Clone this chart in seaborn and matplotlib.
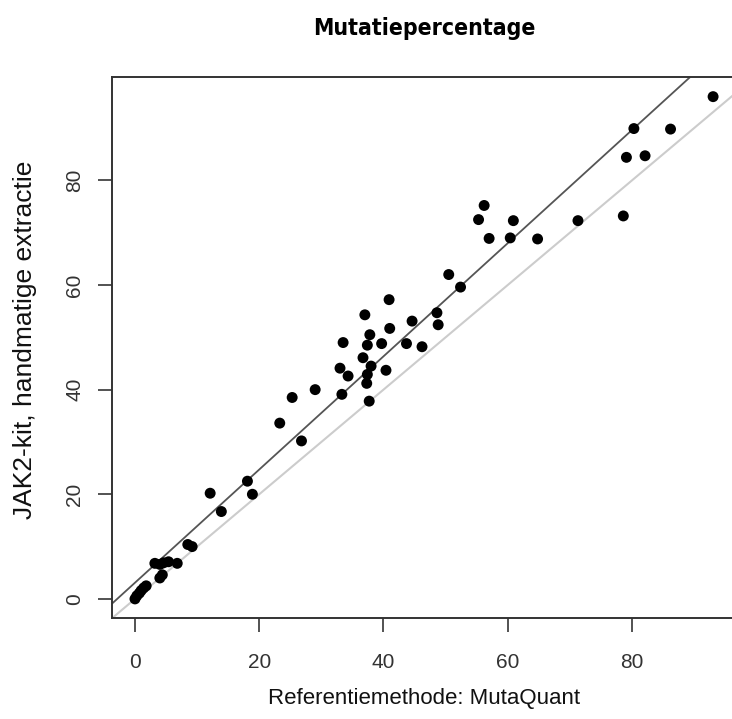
import numpy as np
import pandas as pd
import matplotlib
matplotlib.use("Agg")
import matplotlib.pyplot as plt
import seaborn as sns

# Mutatiepercentage: referentie (MutaQuant) vs JAK2-kit, handmatige extractie
referentie = [0.0, 0.3, 0.7, 1.0, 1.4, 1.8, 4.0, 4.4, 3.2, 4.0, 4.6, 5.4, 6.8,
              8.5, 9.2, 12.1, 13.9, 18.1, 18.9, 23.3, 25.3, 26.8, 29.0,
              33.0, 33.3, 33.5, 34.3, 36.7, 37.0, 37.3, 37.4, 37.4, 37.7, 37.8, 38.0,
              39.7, 40.4, 40.9, 41.0, 43.7, 44.6, 46.2, 48.6, 48.8, 50.5, 52.4,
              55.3, 56.2, 57.0, 60.4, 60.9, 64.8, 71.3, 78.6, 79.1, 80.3, 82.1, 86.2, 93.05]
jak2_kit = [0.0, 0.6, 1.1, 1.6, 2.1, 2.5, 4.0, 4.6, 6.8, 6.6, 6.9, 7.1, 6.8,
            10.4, 10.0, 20.2, 16.7, 22.5, 20.0, 33.6, 38.5, 30.2, 40.0,
            44.1, 39.1, 49.0, 42.6, 46.1, 54.3, 41.2, 42.9, 48.5, 37.8, 50.5, 44.5,
            48.8, 43.7, 57.2, 51.7, 48.8, 53.1, 48.2, 54.7, 52.4, 62.0, 59.6,
            72.5, 75.2, 68.9, 69.0, 72.3, 68.8, 72.3, 73.2, 84.4, 89.9, 84.7, 89.8, 96.0]

df = pd.DataFrame({"ref": referentie, "jak2": jak2_kit})

xticks = [0, 20, 40, 60, 80]
yticks = [0, 20, 40, 60, 80]

# Deming (orthogonale) regressie
x = df["ref"].to_numpy()
y = df["jak2"].to_numpy()
sxx = np.var(x)
syy = np.var(y)
sxy = np.mean((x - x.mean()) * (y - y.mean()))
slope = (syy - sxx + np.sqrt((syy - sxx) ** 2 + 4 * sxy ** 2)) / (2 * sxy)
intercept = y.mean() - slope * x.mean()

sns.set_style("white")
plt.rcParams["font.family"] = ["Liberation Sans", "DejaVu Sans"]

fig = plt.figure(figsize=(7.32, 7.19), dpi=100)
ax = fig.add_axes([0.153, 0.1401, 0.853, 0.7524])

# identiteitslijn y = x
ax.axline((0, 0), slope=1, color="#cccccc", lw=1.5, zorder=1)
# regressielijn
ax.axline((0, intercept), slope=slope, color="#555555", lw=1.3, zorder=2)
sns.scatterplot(data=df, x="ref", y="jak2", color="black", s=62,
                edgecolor="none", zorder=3, ax=ax)

ax.set_xlim(-3.7, 96.8)
ax.set_ylim(-3.7, 99.7)
ax.set_xticks(xticks)
ax.set_yticks(yticks)
ax.tick_params(axis="both", bottom=True, left=True, direction="out",
               length=10, width=1.3, color="#444444",
               labelsize=15, labelcolor="#333333")
ax.tick_params(axis="x", pad=15)
ax.tick_params(axis="y", pad=10)
for lbl in ax.get_yticklabels():
    lbl.set_rotation(90)
    lbl.set_va("center")

for sp in ax.spines.values():
    sp.set_color("#333333")
    sp.set_linewidth(1.4)

ax.set_xlabel("Referentiemethode: MutaQuant", fontsize=16, color="#111111")
ax.set_ylabel("JAK2-kit, handmatige extractie", fontsize=19, color="#111111")
ax.xaxis.set_label_coords(0.5, -0.148)
ax.yaxis.set_label_coords(-0.139, 0.514)
ax.xaxis.label.set_va("center")
ax.yaxis.label.set_va("center")

fig.text(0.58, 1 - 28 / 719, "Mutatiepercentage", ha="center", va="center",
         fontsize=16.5, fontweight="bold", fontstretch="condensed",
         color="black", family=["DejaVu Sans"])

fig.savefig("out.png", dpi=100)
